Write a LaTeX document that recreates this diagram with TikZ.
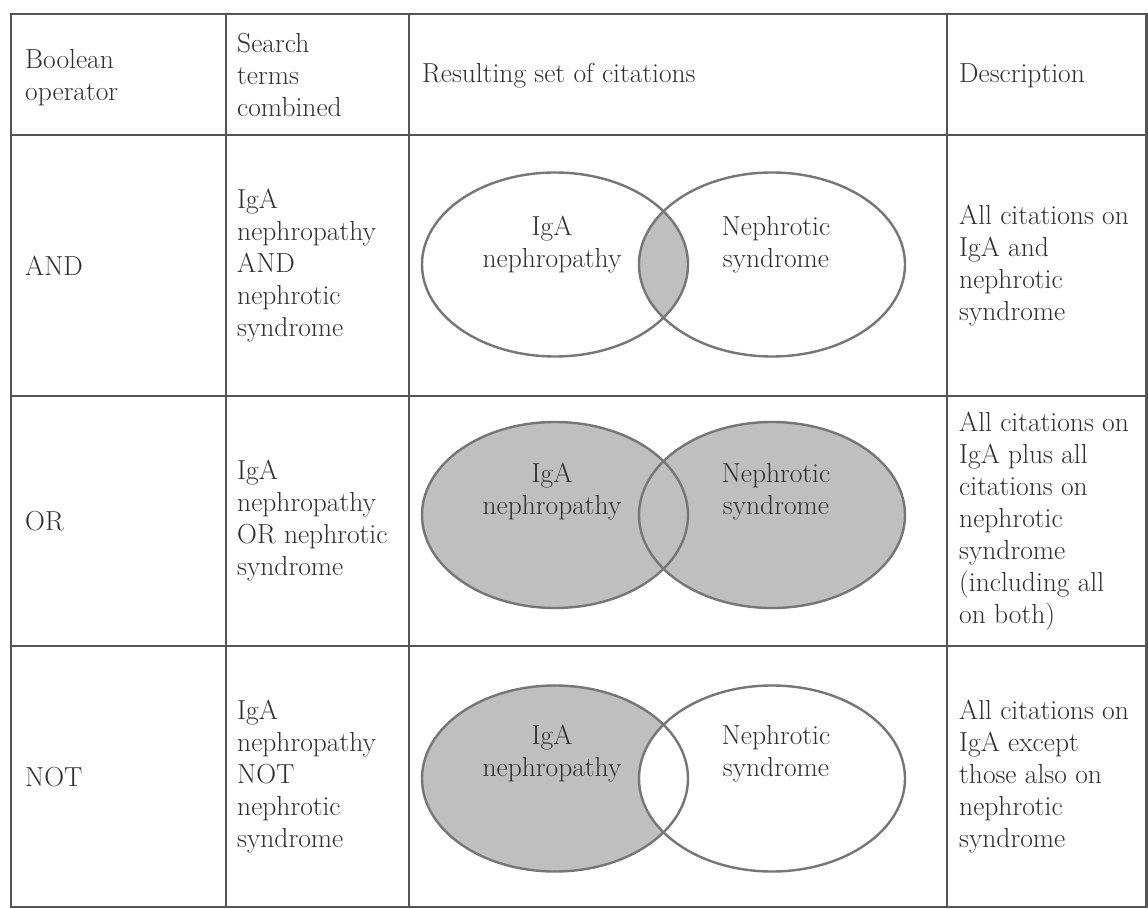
\documentclass[tikz,border=0pt]{standalone}
\usepackage{tikz}
\definecolor{textgray}{HTML}{2E2E2E}
\definecolor{linegray}{HTML}{555555}
\definecolor{venngray}{HTML}{767676}
\definecolor{fillgray}{HTML}{BFBFBF}
\begin{document}
\begin{tikzpicture}[x=1pt,y=-1pt,
  txt/.style={anchor=west,align=left,inner sep=0pt,text=textgray,font=\fontsize{27.5}{32}\selectfont},
  ctxt/.style={align=center,inner sep=0pt,text=textgray,font=\fontsize{27.5}{32}\selectfont},
  gridline/.style={draw=linegray,line width=1.8pt},
  outline/.style={draw=linegray,line width=2.4pt},
  venn/.style={draw=venngray,line width=2.4pt},
  shade/.style={fill=fillgray},
]
\useasboundingbox (0,0) rectangle (1148,909);
\fill[white] (0,0) rectangle (1148,909);

% ---------- Venn diagrams ----------
% Row 1: AND (only intersection shaded)
\begin{scope}
  \clip (555,264.5) ellipse [x radius=133, y radius=92];
  \fill[shade] (772,264.5) ellipse [x radius=133, y radius=92];
\end{scope}
\draw[venn] (555,264.5) ellipse [x radius=133, y radius=92];
\draw[venn] (772,264.5) ellipse [x radius=133, y radius=92];

% Row 2: OR (both shaded)
\fill[shade] (555,515) ellipse [x radius=133, y radius=93];
\fill[shade] (772,515) ellipse [x radius=133, y radius=93];
\draw[venn] (555,515) ellipse [x radius=133, y radius=93];
\draw[venn] (772,515) ellipse [x radius=133, y radius=93];

% Row 3: NOT (left minus right)
\fill[shade] (555,778.5) ellipse [x radius=133, y radius=93];
\fill[white] (772,778.5) ellipse [x radius=133, y radius=93];
\draw[venn] (555,778.5) ellipse [x radius=133, y radius=93];
\draw[venn] (772,778.5) ellipse [x radius=133, y radius=93];

% ---------- Table grid ----------
\draw[gridline] (11,135) -- (1146.5,135);
\draw[gridline] (11,396) -- (1146.5,396);
\draw[gridline] (11,646) -- (1146.5,646);
\draw[gridline] (226,14) -- (226,907);
\draw[gridline] (409,14) -- (409,907);
\draw[gridline] (947,14) -- (947,907);
\draw[outline] (11,14) rectangle (1146.5,907);

% ---------- Header ----------
\node[txt] (h1) at (25,78) {Boolean\\operator};
\node[txt] (h2) at (237,75) {Search\\terms\\combined};
\node[txt] (h3) at (422,76) {Resulting set of citations};
\node[txt] (h4) at (959,76) {Description};

% ---------- Row AND ----------
\node[txt] (op1) at (25,266) {AND};
\node[txt] (st1) at (237,266) {IgA\\nephropathy\\AND\\nephrotic\\syndrome};
\node[ctxt] (l1) at (552,245) {IgA\\nephropathy};
\node[ctxt] (r1) at (776,245) {Nephrotic\\syndrome};
\node[txt] (d1) at (959,266) {All citations on\\IgA and\\nephrotic\\syndrome};

% ---------- Row OR ----------
\node[txt] (op2) at (25,521) {OR};
\node[txt] (st2) at (237,521) {IgA\\nephropathy\\OR nephrotic\\syndrome};
\node[ctxt] (l2) at (552,492) {IgA\\nephropathy};
\node[ctxt] (r2) at (776,492) {Nephrotic\\syndrome};
\node[txt] (d2) at (959,521) {All citations on\\IgA plus all\\citations on\\nephrotic\\syndrome\\(including all\\on both)};

% ---------- Row NOT ----------
\node[txt] (op3) at (25,777) {NOT};
\node[txt] (st3) at (237,777) {IgA\\nephropathy\\NOT\\nephrotic\\syndrome};
\node[ctxt] (l3) at (552,754) {IgA\\nephropathy};
\node[ctxt] (r3) at (776,754) {Nephrotic\\syndrome};
\node[txt] (d3) at (959,777) {All citations on\\IgA except\\those also on\\nephrotic\\syndrome};
\end{tikzpicture}
\end{document}
